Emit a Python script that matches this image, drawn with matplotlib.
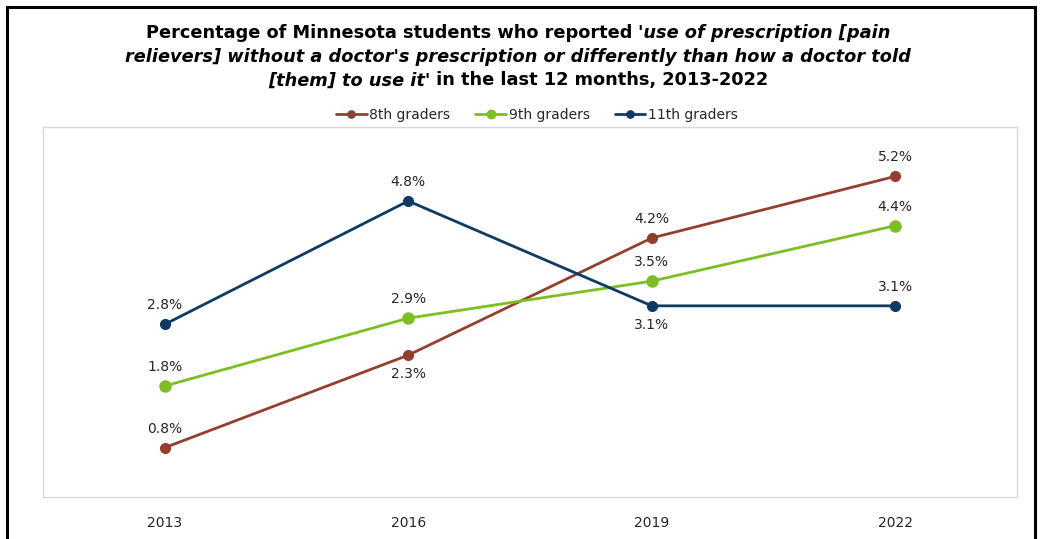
import matplotlib
matplotlib.use("Agg")
import matplotlib.pyplot as plt
from matplotlib.patches import Rectangle

years = ["2013", "2016", "2019", "2022"]
series_names = ["8th graders", "9th graders", "11th graders"]
grade8 = [0.8, 2.3, 4.2, 5.2]
grade9 = [1.8, 2.9, 3.5, 4.4]
grade11 = [2.8, 4.8, 3.1, 3.1]
colors = ["#943F2D", "#7DBE24", "#0D3B66"]
# label placement: +1 above the point, -1 below it
label_side = [
    [1, -1, 1, 1],
    [1, 1, 1, 1],
    [1, 1, -1, 1],
]

W, H = 1041, 539
fig = plt.figure(figsize=(W / 100, H / 100), dpi=100)
fig.patch.set_facecolor("white")

# outer frame
fig.add_artist(Rectangle((6.5 / W, -0.02), (1035 - 6.5) / W, 1 - 6.5 / H + 0.02,
                         transform=fig.transFigure, fill=False, edgecolor="black",
                         linewidth=2.2))

ax = fig.add_axes([43 / W, 1 - 497 / H, (1017 - 43) / W, (497 - 127) / H])
ax.set_xlim(-0.5, 3.5)
ax.set_ylim(0, 6)
ax.set_yticks([])
ax.set_xticks(range(len(years)))
ax.set_xticklabels(years, fontsize=10, color="#262626", family="DejaVu Sans")
ax.tick_params(axis="x", length=0, pad=14)
for s in ax.spines.values():
    s.set_color("#D9D9D9")
    s.set_linewidth(1.0)

x = list(range(len(years)))
for name, vals, col, sides in zip(series_names, [grade8, grade9, grade11], colors, label_side):
    ms = 8 if name == "9th graders" else 7
    ax.plot(x, vals, color=col, linewidth=2.0, marker="o", markersize=ms, label=name,
            solid_capstyle="round")
    for xi, v, sd in zip(x, vals, sides):
        ax.annotate(f"{v:.1f}%", (xi, v), xytext=(0, 19 * sd), textcoords="offset pixels",
                    ha="center", va="center", fontsize=10, color="#262626",
                    family="DejaVu Sans")

leg = fig.legend(loc="center", bbox_to_anchor=(537 / W, 1 - 115 / H), ncol=3, frameon=False,
                 handlelength=2.2, handletextpad=0.2, columnspacing=1.8,
                 markerscale=0.75, prop={"family": "DejaVu Sans", "size": 10})
for t in leg.get_texts():
    t.set_color("#262626")

# title with mixed upright / italic segments, centred line by line
title_lines = [
    [("Percentage of Minnesota students who reported ", "normal"),
     ("'use of prescription [pain", "italic")],
    [("relievers] without a doctor's prescription or differently than how a doctor told", "italic")],
    [("[them] to use it'", "italic"), (" in the last 12 months, 2013-2022", "normal")],
]
line_y = [33, 57, 80.5]
title_font = dict(family="DejaVu Sans", weight="bold", size=12.8, color="black")
fig.canvas.draw()
renderer = fig.canvas.get_renderer()
for segs, yy in zip(title_lines, line_y):
    texts = []
    widths = []
    for txt, style in segs:
        t = fig.text(0, 1 - yy / H, txt, style=style, va="center", ha="left", **title_font)
        bb = t.get_window_extent(renderer=renderer)
        texts.append(t)
        widths.append(bb.width)
    total = sum(widths)
    start = 518 - total / 2
    for t, w in zip(texts, widths):
        t.set_x(start / W)
        start += w

fig.savefig("out.png", dpi=100)
